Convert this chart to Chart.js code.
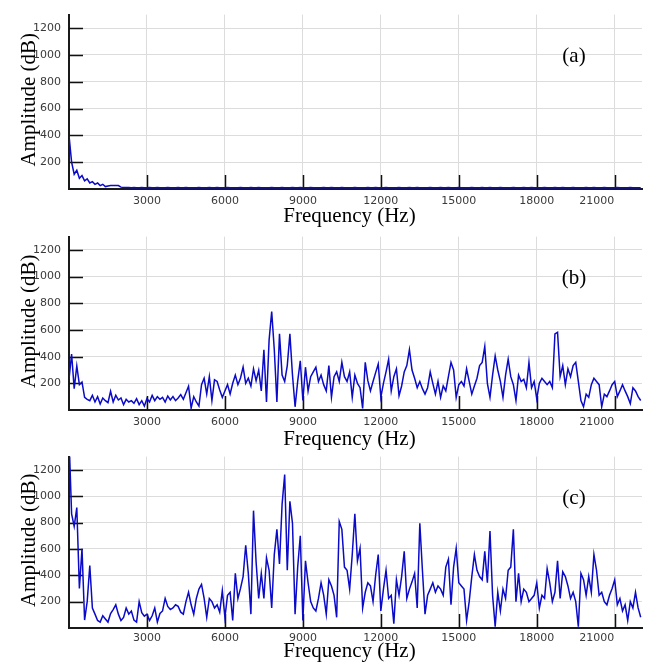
<!DOCTYPE html>
<html>
<head>
<meta charset="utf-8">
<script src="https://cdn.jsdelivr.net/npm/chart.js@4.4.1/dist/chart.umd.min.js"></script>
<style>
    html, body { margin: 0; padding: 0; background: #fff; }
    #wrap { position: relative; width: 656px; height: 670px; overflow: hidden; }
    .panel { position: absolute; left: 0; width: 656px; }
</style>
</head>
<body>
<div id="wrap">
    <!-- panels overlap a little so the x titles are not cut off; canvases are transparent -->
    <div class="panel" style="top: 0; height: 234px;"><canvas id="chartA"></canvas></div>
    <div class="panel" style="top: 222px; height: 232px;"><canvas id="chartB"></canvas></div>
    <div class="panel" style="top: 442px; height: 228px;"><canvas id="chartC"></canvas></div>
</div>
<script>
// spectrum bins, one value every 100 Hz from 0 to 22000 Hz
const freqStep = 100;
const xTickValues = [3000, 6000, 9000, 12000, 15000, 18000, 21000];
const yTickValues = [200, 400, 600, 800, 1000, 1200];
const xTitle = 'Frequency (Hz)';
const yTitle = 'Amplitude (dB)';

const ampA = [
    400, 200, 110, 140, 80, 100, 60, 75, 45, 55,
    35, 45, 25, 35, 18, 22, 26, 26, 26, 26,
    14, 12, 11, 11, 10, 11, 10, 10, 11, 10,
    10, 11, 10, 10, 11, 10, 10, 10, 11, 10,
    10, 10, 11, 10, 10, 11, 10, 10, 10, 10,
    11, 10, 10, 10, 11, 10, 10, 11, 10, 10,
    10, 11, 10, 10, 10, 10, 11, 10, 10, 10,
    11, 10, 10, 11, 10, 10, 10, 10, 11, 10,
    10, 10, 11, 10, 10, 10, 11, 10, 10, 11,
    10, 10, 10, 11, 10, 10, 10, 10, 11, 10,
    10, 11, 10, 10, 10, 11, 10, 10, 10, 10,
    11, 10, 10, 10, 10, 11, 10, 10, 11, 10,
    10, 10, 11, 10, 10, 10, 10, 11, 10, 10,
    10, 11, 10, 10, 11, 10, 10, 10, 10, 11,
    10, 10, 10, 11, 10, 10, 11, 10, 10, 10,
    11, 10, 10, 10, 10, 11, 10, 10, 10, 11,
    10, 10, 11, 10, 10, 10, 11, 10, 10, 10,
    10, 11, 10, 10, 10, 11, 10, 10, 11, 10,
    10, 10, 10, 11, 10, 10, 10, 11, 10, 10,
    11, 10, 10, 10, 11, 10, 10, 10, 10, 11,
    10, 10, 11, 10, 10, 10, 11, 10, 10, 10,
    10, 11, 10, 10, 10, 10, 11, 10, 10, 10,
    10
];

const ampB = [
    230, 420, 160, 330, 190, 210, 95, 80, 70, 110,
    60, 100, 45, 90, 70, 55, 140, 60, 110, 75,
    90, 40, 80, 60, 70, 50, 85, 40, 70, 30,
    85, 60, 110, 70, 100, 80, 95, 60, 105, 75,
    100, 70, 90, 115, 80, 130, 178, 14, 100, 60,
    30, 190, 238, 120, 250, 71, 226, 214, 150, 95,
    143, 190, 120, 200, 262, 190, 240, 321, 200, 238,
    180, 309, 220, 298, 143, 452, 60, 524, 738, 452,
    60, 571, 262, 214, 333, 571, 262, 24, 214, 369,
    71, 321, 143, 250, 286, 321, 214, 262, 190, 143,
    333, 95, 250, 286, 214, 357, 250, 214, 286, 95,
    262, 200, 167, 12, 357, 220, 143, 214, 280, 345,
    95, 200, 286, 381, 143, 250, 309, 107, 180, 286,
    333, 452, 300, 238, 167, 214, 160, 119, 167, 286,
    200, 119, 214, 95, 180, 143, 250, 357, 300, 95,
    190, 214, 180, 309, 214, 119, 180, 238, 333, 357,
    476, 200, 95, 262, 405, 300, 214, 95, 262, 381,
    250, 190, 71, 262, 214, 230, 167, 357, 167, 214,
    83, 200, 238, 214, 190, 214, 167, 571, 583, 250,
    333, 190, 309, 250, 333, 357, 214, 71, 24, 119,
    95, 190, 238, 214, 190, 24, 119, 100, 143, 190,
    214, 100, 143, 190, 143, 100, 48, 167, 143, 100,
    71
];

const ampC = [
    1450, 866, 771, 914, 300, 600, 60, 200, 474, 152,
    105, 57, 45, 93, 69, 45, 110, 140, 176, 105,
    57, 80, 152, 105, 129, 60, 45, 200, 117, 90,
    105, 57, 93, 152, 45, 110, 129, 224, 164, 140,
    152, 176, 164, 120, 105, 200, 271, 176, 105, 224,
    295, 331, 224, 81, 224, 200, 152, 176, 120, 283,
    81, 248, 271, 57, 414, 224, 300, 390, 628, 414,
    105, 890, 500, 224, 414, 224, 533, 438, 152, 557,
    748, 486, 938, 1164, 438, 961, 795, 105, 462, 700,
    57, 509, 343, 200, 152, 129, 224, 343, 250, 105,
    366, 319, 248, 81, 807, 748, 462, 438, 295, 557,
    866, 509, 605, 152, 271, 343, 319, 200, 400, 557,
    129, 295, 438, 224, 248, 33, 366, 248, 390, 581,
    224, 295, 350, 414, 152, 795, 438, 105, 248, 295,
    343, 271, 319, 295, 248, 462, 521, 176, 462, 605,
    343, 319, 295, 57, 200, 390, 557, 438, 390, 366,
    581, 343, 736, 248, 10, 271, 129, 295, 224, 438,
    462, 748, 200, 414, 200, 295, 271, 200, 224, 248,
    343, 152, 248, 224, 450, 343, 200, 271, 509, 224,
    426, 390, 319, 224, 271, 200, 10, 414, 366, 248,
    390, 271, 557, 438, 248, 271, 200, 176, 248, 300,
    366, 176, 224, 129, 176, 57, 200, 152, 271, 152,
    81
];

const tickFont = '11px "DejaVu Sans", sans-serif';
const titleFont = '21px "Liberation Serif", "Times New Roman", serif';

// inward tick marks, x tick labels, axis titles and the panel letter
const panelDecor = {
    id: 'panelDecor',
    beforeDatasetsDraw(chart) {
        const { ctx, chartArea: a, scales: { x, y } } = chart;
        ctx.save();
        ctx.strokeStyle = '#111';
        ctx.lineWidth = 1.5;
        ctx.beginPath();
        yTickValues.forEach(v => {
            const py = Math.round(y.getPixelForValue(v)) + 0.5;
            ctx.moveTo(a.left, py);
            ctx.lineTo(a.left + 14, py);
        });
        xTickValues.forEach(v => {
            const px = Math.round(x.getPixelForValue(v)) + 0.5;
            ctx.moveTo(px, a.bottom);
            ctx.lineTo(px, a.bottom - 14);
        });
        ctx.stroke();
        ctx.restore();
    },
    afterDraw(chart, args, opts) {
        const { ctx, chartArea: a, scales: { x } } = chart;
        ctx.save();
        ctx.fillStyle = '#3a3a3a';
        ctx.font = tickFont;
        ctx.textAlign = 'center';
        ctx.textBaseline = 'middle';
        xTickValues.forEach(v => {
            const nudge = v === 21000 ? -18 : 0;
            ctx.fillText(String(v), x.getPixelForValue(v) + nudge, a.bottom + opts.labelGap);
        });

        ctx.fillStyle = '#000';
        ctx.font = titleFont;
        ctx.textBaseline = 'alphabetic';
        ctx.fillText(xTitle, (a.left + a.right) / 2 - 6, a.bottom + opts.titleBase);

        ctx.save();
        ctx.translate(35, (a.top + a.bottom) / 2 - 2);
        ctx.rotate(-Math.PI / 2);
        ctx.fillText(yTitle, 0, 0);
        ctx.restore();

        ctx.textBaseline = 'middle';
        ctx.fillText(opts.letter, 574, a.top + 42);
        ctx.restore();
    }
};

// top / bottom: plot area edges inside each canvas
const panels = [
    { id: 'chartA', amps: ampA, letter: '(a)', top: 5, bottom: 189, labelGap: 12.5, titleBase: 33 },
    { id: 'chartB', amps: ampB, letter: '(b)', top: 5, bottom: 188, labelGap: 11.7, titleBase: 35 },
    { id: 'chartC', amps: ampC, letter: '(c)', top: 3, bottom: 186, labelGap: 10, titleBase: 29 }
];

const instances = panels.map(p => new Chart(document.getElementById(p.id), {
    type: 'line',
    data: {
        datasets: [{
            data: p.amps.map((v, i) => ({ x: i * freqStep, y: v })),
            borderColor: '#0a0ac8',
            borderWidth: 1.5,
            pointRadius: 0,
            tension: 0,
            fill: false
        }]
    },
    options: {
        responsive: true,
        maintainAspectRatio: false,
        animation: false,
        events: [],
        layout: { padding: { top: p.top, right: 14, left: 0, bottom: 0 } },
        plugins: {
            legend: { display: false },
            tooltip: { enabled: false },
            panelDecor: { letter: p.letter, labelGap: p.labelGap, titleBase: p.titleBase }
        },
        scales: {
            x: {
                type: 'linear',
                min: 0,
                max: 22050,
                afterBuildTicks: (scale) => { scale.ticks = xTickValues.map(v => ({ value: v })); },
                afterFit: (scale) => { scale.height = scale.chart.height - p.bottom; },
                ticks: { display: false },
                grid: { color: '#dcdcdc', lineWidth: 1, drawTicks: false },
                border: { display: true, color: '#1a1a1a', width: 2 }
            },
            y: {
                min: 0,
                max: 1300,
                afterBuildTicks: (scale) => { scale.ticks = yTickValues.map(v => ({ value: v })); },
                afterFit: (scale) => { scale.width = 69; },
                ticks: {
                    color: '#3a3a3a',
                    font: { family: '"DejaVu Sans", sans-serif', size: 11 },
                    padding: 8,
                    callback: (v) => String(v)
                },
                grid: { color: '#dcdcdc', lineWidth: 1, drawTicks: false },
                border: { display: true, color: '#1a1a1a', width: 2 }
            }
        }
    },
    plugins: [panelDecor]
}));
</script>
</body>
</html>
